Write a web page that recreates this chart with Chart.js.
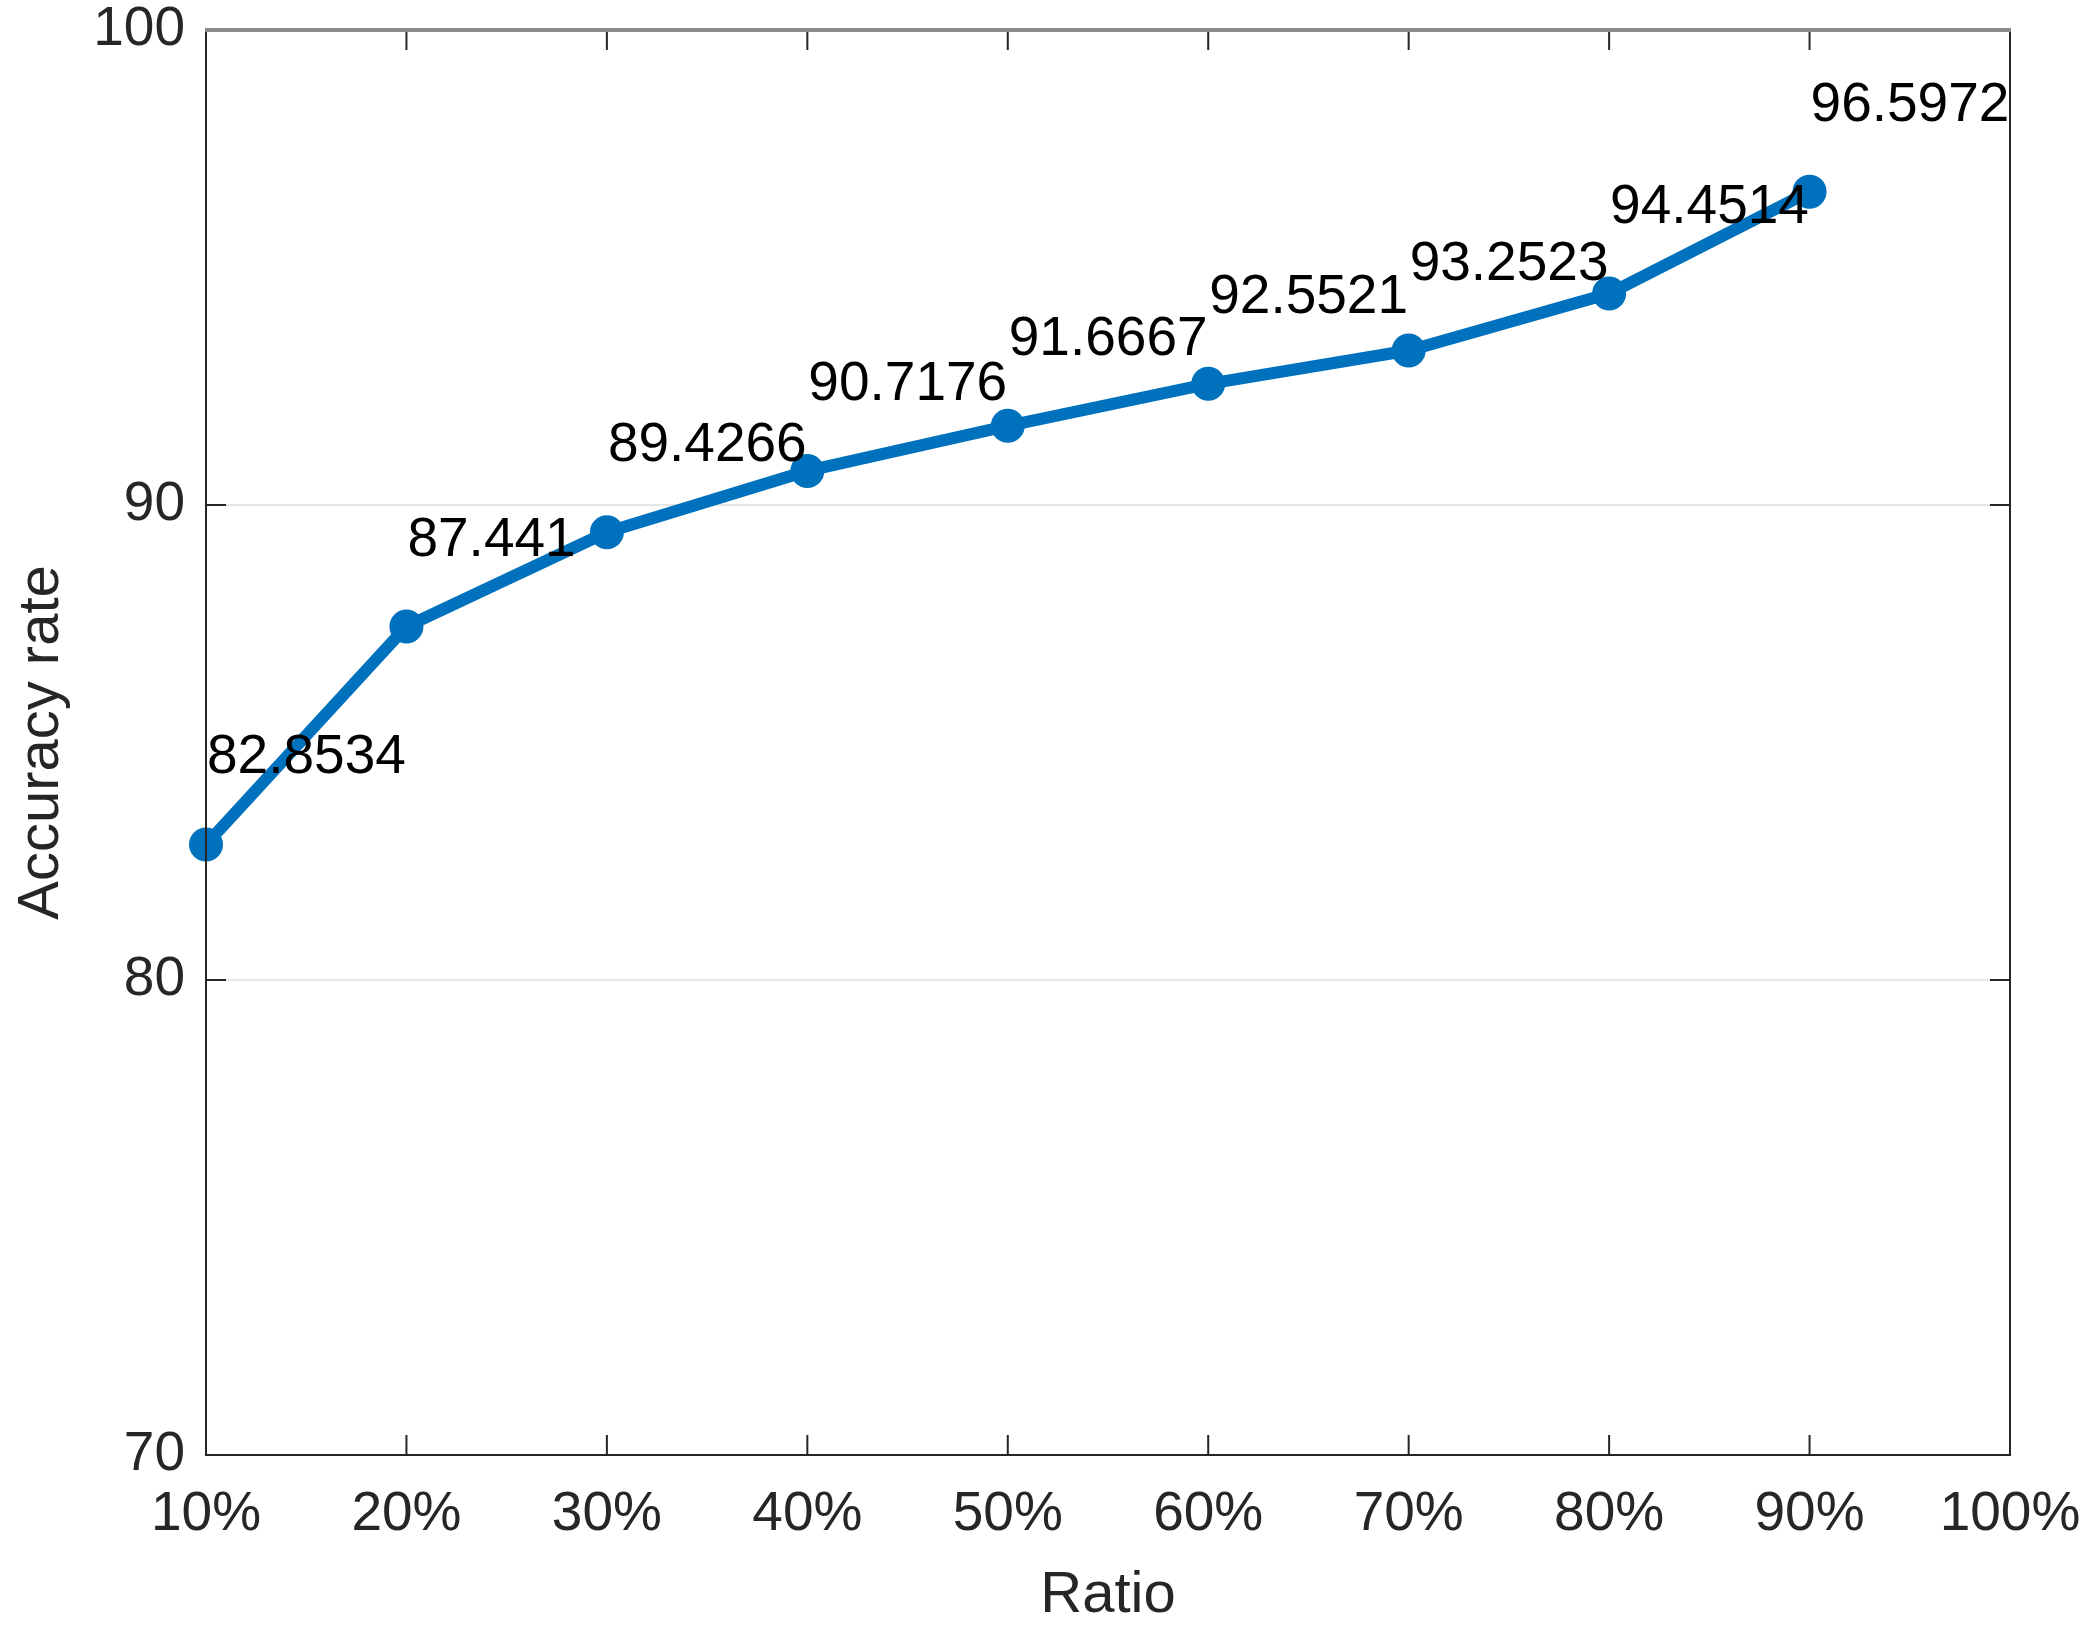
<!DOCTYPE html>
<html>
<head>
<meta charset="utf-8">
<script src="https://cdn.jsdelivr.net/npm/chart.js@4.4.1/dist/chart.umd.min.js"></script>
<style>
  html, body { margin: 0; padding: 0; background: #ffffff; }
  #wrap { width: 2088px; height: 1637px; position: relative; }
</style>
</head>
<body>
<div id="wrap"><canvas id="c" width="2088" height="1637"></canvas></div>
<script>
// ---- Data ----
const categories = ['10%', '20%', '30%', '40%', '50%', '60%', '70%', '80%', '90%', '100%'];
const accuracy = [82.8534, 87.441, 89.4266, 90.7176, 91.6667, 92.5521, 93.2523, 94.4514, 96.5972, null];
const pointLabels = ['82.8534', '87.441', '89.4266', '90.7176', '91.6667', '92.5521', '93.2523', '94.4514', '96.5972'];
const yTicks = [70, 80, 90, 100];
const xTitle = 'Ratio';
const yTitle = 'Accuracy rate';

const FONT = '"Liberation Sans", Arial, Helvetica, sans-serif';
const AXIS_COLOR = '#262626';
const LINE_COLOR = '#0072BD';

function zeroPad(scale) {
  scale.paddingTop = 0; scale.paddingBottom = 0;
  scale.paddingLeft = 0; scale.paddingRight = 0;
}

const matlabBox = {
  id: 'matlabBox',
  afterDatasetsDraw(chart) {
    const ctx = chart.ctx;
    const a = chart.chartArea;
    const xs = chart.scales.x, ys = chart.scales.y;
    const tl = 20;
    ctx.save();
    // ticks
    ctx.strokeStyle = AXIS_COLOR;
    ctx.lineWidth = 2;
    ctx.beginPath();
    for (let i = 0; i < categories.length; i++) {
      const px = xs.getPixelForTick(i);
      ctx.moveTo(px, a.bottom); ctx.lineTo(px, a.bottom - tl);
      ctx.moveTo(px, a.top); ctx.lineTo(px, a.top + tl);
    }
    yTicks.forEach(v => {
      const py = ys.getPixelForValue(v);
      ctx.moveTo(a.left, py); ctx.lineTo(a.left + tl, py);
      ctx.moveTo(a.right, py); ctx.lineTo(a.right - tl, py);
    });
    ctx.stroke();
    // box
    ctx.beginPath();
    ctx.moveTo(a.left, a.top); ctx.lineTo(a.left, a.bottom); ctx.lineTo(a.right, a.bottom); ctx.lineTo(a.right, a.top);
    ctx.stroke();
    ctx.strokeStyle = '#8a8a8a';
    ctx.lineWidth = 4;
    ctx.beginPath();
    ctx.moveTo(a.left - 1, a.top); ctx.lineTo(a.right + 1, a.top);
    ctx.stroke();

    // data labels
    const meta = chart.getDatasetMeta(0);
    ctx.fillStyle = '#000000';
    ctx.font = '55px ' + FONT;
    ctx.textAlign = 'left';
    ctx.textBaseline = 'alphabetic';
    meta.data.forEach((pt, i) => {
      if (accuracy[i] == null) return;
      ctx.fillText(pointLabels[i], pt.x + 1, pt.y - 71);
    });
    ctx.restore();
  }
};

new Chart(document.getElementById('c'), {
  type: 'line',
  data: {
    labels: categories,
    datasets: [{
      data: accuracy,
      borderColor: LINE_COLOR,
      backgroundColor: LINE_COLOR,
      borderWidth: 12,
      pointRadius: 16,
      pointBorderWidth: 2,
      pointBackgroundColor: LINE_COLOR,
      pointBorderColor: LINE_COLOR,
      tension: 0,
      fill: false,
      spanGaps: false
    }]
  },
  options: {
    responsive: false,
    animation: false,
    devicePixelRatio: 1,
    layout: { padding: { left: 0, top: 30, right: 78, bottom: 0 } },
    plugins: { legend: { display: false }, tooltip: { enabled: false }, title: { display: false } },
    scales: {
      x: {
        type: 'category',
        offset: false,
        grid: { display: false, drawTicks: false },
        border: { display: false },
        ticks: {
          color: AXIS_COLOR,
          font: { family: FONT, size: 55, lineHeight: 1.2 },
          padding: 27,
          maxRotation: 0,
          autoSkip: false
        },
        title: {
          display: true,
          text: xTitle,
          color: AXIS_COLOR,
          font: { family: FONT, size: 58, lineHeight: 1.2 },
          padding: { top: 0, bottom: 6 }
        },
        afterFit(scale) { scale.height = 182; zeroPad(scale); }
      },
      y: {
        min: 70,
        max: 100,
        afterBuildTicks(scale) { scale.ticks = yTicks.map(v => ({ value: v })); },
        grid: {
          drawTicks: false,
          color: ctx => (ctx.tick && (ctx.tick.value === 80 || ctx.tick.value === 90)) ? '#e5e5e5' : 'rgba(0,0,0,0)',
          lineWidth: 2
        },
        border: { display: false },
        ticks: {
          color: AXIS_COLOR,
          font: { family: FONT, size: 55, lineHeight: 1.2 },
          padding: 21
        },
        title: {
          display: true,
          text: yTitle,
          color: AXIS_COLOR,
          font: { family: FONT, size: 58, lineHeight: 1.2 },
          padding: { top: 7, bottom: 0 }
        },
        afterFit(scale) { scale.width = 206; zeroPad(scale); }
      }
    }
  },
  plugins: [matlabBox]
});
</script>
</body>
</html>
